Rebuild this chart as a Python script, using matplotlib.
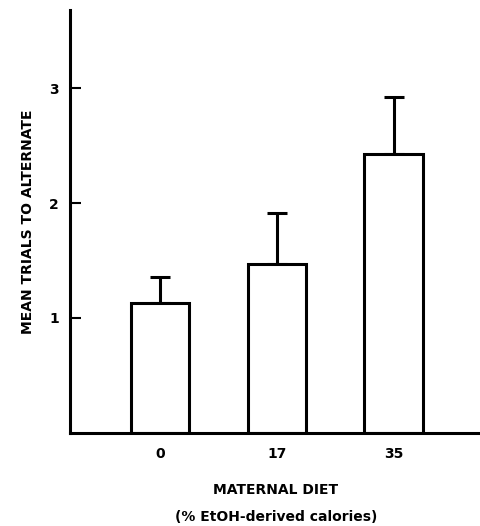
import numpy as np
from matplotlib import pyplot as plt

plt.rcParams['font.family'] = ['Liberation Sans Narrow', 'DejaVu Sans']

diet = ['0', '17', '35']
mean_trials = [1.13, 1.47, 2.43]
err_up = [0.23, 0.44, 0.49]

fig = plt.figure(figsize=(4.8, 5.26), dpi=100)
ax = fig.add_axes([0.146, 0.177, 0.854, 0.804])

x = np.arange(len(diet))
ax.bar(x, mean_trials, width=0.5, color='white', edgecolor='black', linewidth=2.2, zorder=2)
ax.errorbar(x, mean_trials, yerr=[np.zeros(3), err_up], fmt='none', ecolor='black',
            elinewidth=2.2, capsize=7, capthick=2.2, zorder=1)

ax.set_xlim(-0.77, 2.74)
ax.set_ylim(0, 3.68)
ax.set_xticks(x)
ax.set_xticklabels(diet)
ax.set_yticks([1, 2, 3])
ax.tick_params(axis='x', length=0, pad=10)
ax.tick_params(axis='y', direction='in', length=8, width=1.5, pad=8)
for lab in ax.get_xticklabels() + ax.get_yticklabels():
    lab.set_fontweight('bold')
    lab.set_fontsize(10)

for s in ['top', 'right']:
    ax.spines[s].set_visible(False)
ax.spines['left'].set_linewidth(2.2)
ax.spines['bottom'].set_linewidth(2.2)

ax.set_ylabel('MEAN TRIALS TO ALTERNATE', fontweight='bold', fontsize=10, labelpad=10)
fig.text(0.575, 0.068, 'MATERNAL DIET', ha='center', va='center', fontweight='bold', fontsize=10)
fig.text(0.575, 0.017, '(% EtOH-derived calories)', ha='center', va='center', fontweight='bold', fontsize=10)

fig.savefig('out.png', dpi=100)
